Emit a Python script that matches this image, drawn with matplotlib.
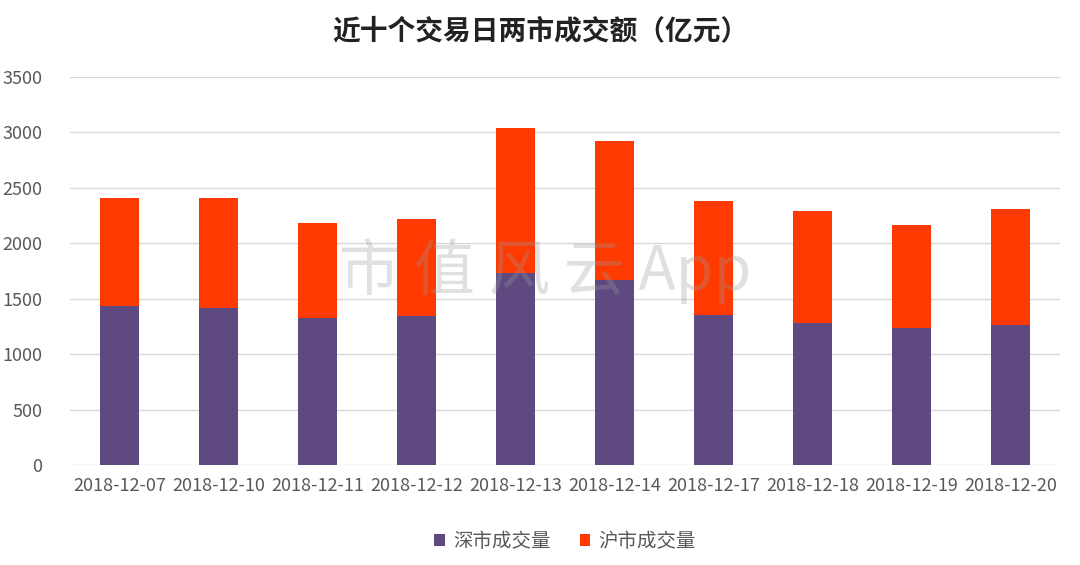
import numpy as np
import matplotlib.pyplot as plt

plt.rcParams['font.family'] = ['Noto Sans CJK SC', 'DejaVu Sans']

dates = ['2018-12-07', '2018-12-10', '2018-12-11', '2018-12-12', '2018-12-13',
         '2018-12-14', '2018-12-17', '2018-12-18', '2018-12-19', '2018-12-20']
shenzhen = [1434, 1416, 1326, 1344, 1732, 1669, 1353, 1281, 1236, 1263]
shanghai = [974, 992, 857, 875, 1308, 1253, 1028, 1010, 929, 1046]
yticks = [0, 500, 1000, 1500, 2000, 2500, 3000, 3500]

fig = plt.figure(figsize=(10.8, 5.65), dpi=100)
ax = fig.add_axes([0.0648, 0.177, 0.9167, 0.687])

x = np.arange(len(dates))
ax.bar(x, shenzhen, width=0.4, color='#5e4a80', label='深市成交量', zorder=3)
ax.bar(x, shanghai, width=0.4, bottom=shenzhen, color='#ff3a00', label='沪市成交量', zorder=3)

ax.set_xlim(-0.5, len(dates) - 0.5)
ax.set_ylim(0, 3500)
ax.set_yticks(yticks)
ax.set_xticks(x)
ax.set_xticklabels(dates)
ax.grid(axis='y', color='#d9d9d9', linewidth=1, zorder=0)
for s in ax.spines.values():
    s.set_visible(False)
ax.tick_params(axis='both', length=0, colors='#595959', labelsize=13)
ax.tick_params(axis='x', pad=9)
ax.tick_params(axis='y', pad=20)

fig.text(0.5, 0.945, '近十个交易日两市成交额（亿元）', ha='center', va='center',
         fontsize=20, fontweight='bold', color='#222222')

# watermark
fig.text(0.505, 0.52, '市 值 风 云 App', ha='center', va='center', fontsize=44,
         color='#999999', alpha=0.3, zorder=10)

ax.legend(loc='upper center', bbox_to_anchor=(0.5, -0.125), ncol=2, frameon=False,
          fontsize=14, handlelength=0.55, handleheight=0.55, handletextpad=0.4,
          columnspacing=1.5, labelcolor='#595959')

fig.savefig('out.png', dpi=100)
